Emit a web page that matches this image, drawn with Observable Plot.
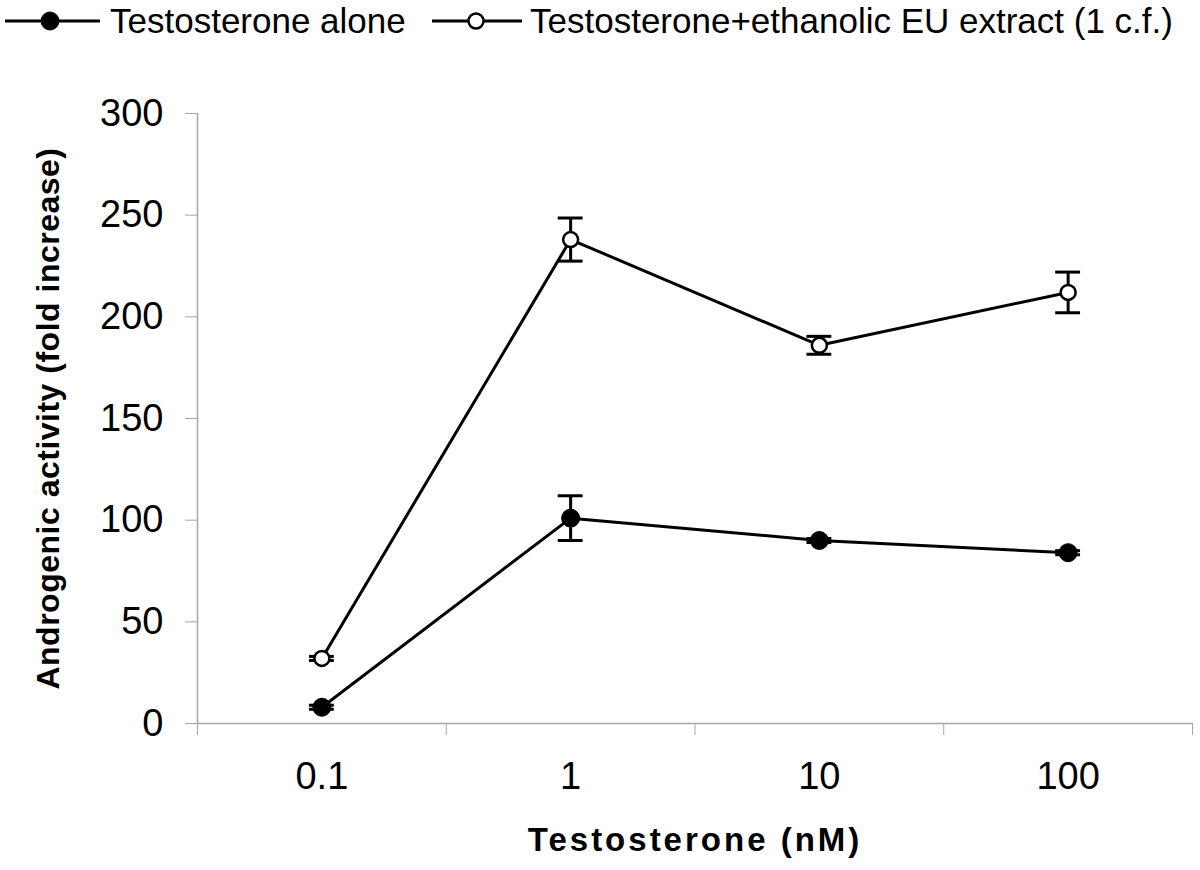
<!DOCTYPE html>
<html>
<head>
<meta charset="utf-8">
<script src="https://cdn.jsdelivr.net/npm/d3@7"></script>
<script src="https://cdn.jsdelivr.net/npm/@observablehq/plot@0.6"></script>
<style>
  html, body { margin: 0; padding: 0; background: white; }
  body { width: 1200px; height: 870px; overflow: hidden; font-family: "Liberation Sans", Arial, sans-serif; }
  #legend { display: block; }
</style>
</head>
<body>
<svg id="legend" width="1200" height="50"></svg>
<div id="chart"></div>
<script>
// ---- data ----
const categories = ["0.1", "1", "10", "100"];
const seriesNames = ["Testosterone alone", "Testosterone+ethanolic EU extract (1 c.f.)"];
const aloneMean = [8, 101, 90, 84];
const aloneErr = [1, 11, 1, 1];
const extractMean = [32, 238, 186, 212];
const extractErr = [1, 10.6, 4.4, 10];
const yTicks = [0, 50, 100, 150, 200, 250, 300];
const xLabel = "Testosterone (nM)";
const yLabel = "Androgenic activity (fold increase)";

// ---- table ----
const rows = [];
categories.forEach((c, i) => {
  rows.push({series: 0, i, cat: c, mean: aloneMean[i], err: aloneErr[i]});
});
categories.forEach((c, i) => {
  rows.push({series: 1, i, cat: c, mean: extractMean[i], err: extractErr[i]});
});
const boundaries = d3.range(categories.length + 1).map(i => i - 0.5);
const centers = d3.range(categories.length);
const grey = "#a6a6a6";
const cap = 0.05;

// ---- legend ----
const leg = d3.select("#legend");
const legItems = [
  {x1: 5, x2: 100, cx: 50, filled: true, tx: 110},
  {x1: 432, x2: 522, cx: 476, filled: false, tx: 530}
];
legItems.forEach((it, k) => {
  leg.append("line").attr("x1", it.x1).attr("x2", it.x2).attr("y1", 21).attr("y2", 21)
    .attr("stroke", "black").attr("stroke-width", 3);
  leg.append("circle").attr("cx", it.cx).attr("cy", 21).attr("r", it.filled ? 9 : 7.5)
    .attr("fill", it.filled ? "black" : "white").attr("stroke", "black").attr("stroke-width", it.filled ? 1 : 2.5);
  leg.append("text").attr("x", it.tx).attr("y", 33)
    .attr("font-family", "Liberation Sans, Arial, sans-serif").attr("font-size", 35)
    .attr("fill", "black").text(seriesNames[k]);
});

// ---- chart ----
const chart = Plot.plot({
  width: 1200,
  height: 820,
  marginLeft: 197,
  marginRight: 8,
  marginTop: 63,
  marginBottom: 147,
  style: {fontFamily: "Liberation Sans, Arial, sans-serif", color: "black", background: "white"},
  x: {type: "linear", domain: [-0.5, categories.length - 0.5], label: null},
  y: {domain: [0, 300], label: null},
  marks: [
    Plot.ruleY([0], {stroke: grey, strokeWidth: 1.5}),
    Plot.ruleX([-0.5], {stroke: grey, strokeWidth: 1.5}),
    Plot.axisY({ticks: yTicks, tickSize: 12, tickPadding: 22, stroke: grey, fill: "black", fontSize: 38, label: null, tickFormat: d => String(d)}),
    Plot.axisX({ticks: boundaries, tickSize: 12, stroke: grey, tickFormat: () => "", label: null}),
    Plot.axisX({ticks: centers, tickSize: 0, tickPadding: 39, fill: "black", fontSize: 38, tickFormat: i => categories[i], label: null}),
    Plot.line(rows, {x: "i", y: "mean", z: "series", stroke: "black", strokeWidth: 3}),
    Plot.ruleX(rows, {x: "i", y1: d => d.mean - d.err, y2: d => d.mean + d.err, stroke: "black", strokeWidth: 3}),
    Plot.ruleY(rows, {y: d => d.mean + d.err, x1: d => d.i - cap, x2: d => d.i + cap, stroke: "black", strokeWidth: 3}),
    Plot.ruleY(rows, {y: d => d.mean - d.err, x1: d => d.i - cap, x2: d => d.i + cap, stroke: "black", strokeWidth: 3}),
    Plot.dot(rows.filter(d => d.series === 0), {x: "i", y: "mean", r: 9, fill: "black", stroke: "black", strokeWidth: 1}),
    Plot.dot(rows.filter(d => d.series === 1), {x: "i", y: "mean", r: 7.5, fill: "white", stroke: "black", strokeWidth: 2.5}),
    Plot.text([xLabel], {text: d => d, frameAnchor: "bottom", dy: 117, lineAnchor: "middle", textAnchor: "middle", fontSize: 33, fontWeight: "bold", fill: "black"}),
    Plot.text([yLabel], {text: d => d, frameAnchor: "left", dx: -149, rotate: -90, lineAnchor: "middle", textAnchor: "middle", fontSize: 32, fontWeight: "bold", fill: "black"})
  ]
});
chart.querySelectorAll("text").forEach(t => {
  if (t.textContent === xLabel) t.style.letterSpacing = "3px";
  if (t.textContent === yLabel) t.style.letterSpacing = "0.5px";
});
document.getElementById("chart").appendChild(chart);
</script>
</body>
</html>
